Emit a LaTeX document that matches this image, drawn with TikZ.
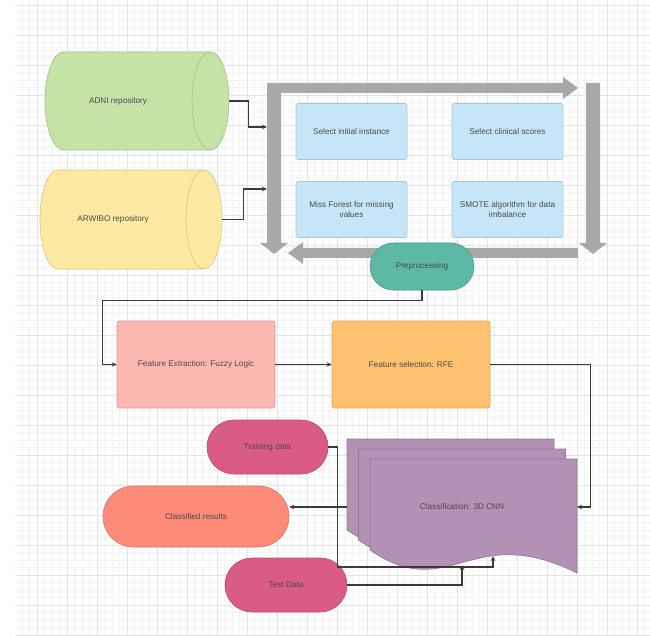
\documentclass[tikz,border=0pt]{standalone}
\usepackage{fontspec}
\setmainfont{Liberation Sans}
\usetikzlibrary{arrows.meta}
\definecolor{gridminor}{HTML}{F4F4F4}
\definecolor{gridmajor}{HTML}{E4E4E4}
\definecolor{grayarrow}{HTML}{A8A8A8}
\definecolor{txtc}{HTML}{4A4A4A}
\definecolor{linec}{HTML}{3A3A3A}
\definecolor{blueF}{HTML}{C7E5F8}\definecolor{blueD}{HTML}{A9C7DA}
\definecolor{greenF}{HTML}{C6E3A7}\definecolor{greenD}{HTML}{9FC386}
\definecolor{yellowF}{HTML}{FDE9A1}\definecolor{yellowD}{HTML}{D9C57F}
\definecolor{tealF}{HTML}{5DB9A5}\definecolor{tealD}{HTML}{4A9E8C}
\definecolor{pinkF}{HTML}{FBB8B0}\definecolor{pinkD}{HTML}{D9A09A}
\definecolor{orangeF}{HTML}{FEC271}\definecolor{orangeD}{HTML}{E0A95C}
\definecolor{raspF}{HTML}{DA5C85}\definecolor{raspD}{HTML}{B84A6E}
\definecolor{salmonF}{HTML}{FE8B77}\definecolor{salmonD}{HTML}{DD7664}
\definecolor{purpleF}{HTML}{B391B5}\definecolor{purpleD}{HTML}{94769A}
\tikzset{
  txt/.style={font=\fontsize{8.2}{9.5}\selectfont, text=txtc, align=center, inner sep=0pt},
  bluebox/.style={txt, rectangle, rounded corners=2pt, fill=blueF, draw=blueD, line width=0.6pt,
    minimum width=111pt, minimum height=56pt},
  bigbox/.style={txt, rectangle, rounded corners=2pt, line width=0.6pt,
    minimum width=158pt, minimum height=87pt},
  stadium/.style={txt, rectangle, line width=0.6pt},
  conn/.style={draw=linec, line width=1.2pt, -{Stealth[length=5pt,width=4.5pt]}},
  garrow/.style={fill=grayarrow, draw=none},
  cylbody/.style={line width=0.6pt},
}
\begin{document}
\begin{tikzpicture}[x=1pt,y=-1pt]
\useasboundingbox (0,0) rectangle (650,636);
\fill[white] (0,0) rectangle (650,636);
% grid
\foreach \i in {0,...,84} {
  \draw[gridminor, line width=0.4pt] ({14.5+7.5*\i},0) -- ({14.5+7.5*\i},636);
  \draw[gridminor, line width=0.4pt] (14.5,{5+7.5*\i}) -- (650,{5+7.5*\i});
}
\foreach \i in {0,...,21} {
  \draw[gridmajor, line width=0.5pt] ({7+30*\i},0) -- ({7+30*\i},636);
  \draw[gridmajor, line width=0.5pt] (14.5,{5+30*\i}) -- (650,{5+30*\i});
}
\fill[white] (0,0) rectangle (14.5,636);

% cylinders
\path[cylbody, fill=greenF, draw=greenD] (63.5,52) -- (210.5,52)
  arc[start angle=90, end angle=-90, x radius=18.5pt, y radius=49pt] -- (63.5,150)
  arc[start angle=270, end angle=90, x radius=18.5pt, y radius=49pt] -- cycle;
\draw[cylbody, draw=greenD] (210.5,52) arc[start angle=90, end angle=270, x radius=18.5pt, y radius=49pt];
\node[inner sep=0, minimum width=184pt, minimum height=98pt] (adni) at (137,101) {};
\node[txt] (adnilbl) at (118,101) {ADNI repository};

\path[cylbody, fill=yellowF, draw=yellowD] (58,170) -- (204,170)
  arc[start angle=90, end angle=-90, x radius=18pt, y radius=49.5pt] -- (58,269)
  arc[start angle=270, end angle=90, x radius=18pt, y radius=49.5pt] -- cycle;
\draw[cylbody, draw=yellowD] (204,170) arc[start angle=90, end angle=270, x radius=18pt, y radius=49.5pt];
\node[inner sep=0, minimum width=182pt, minimum height=99pt] (arw) at (131,219.5) {};
\node[txt] (arwlbl) at (113,219.5) {ARWIBO repository};

% gray cycle arrows
\path[garrow] (267,83) -- (281,83) -- (281,243) -- (288,243) -- (274,254) -- (260,243) -- (267,243) -- cycle;
\path[garrow] (281,83) -- (563,83) -- (563,77) -- (578,88) -- (563,99) -- (563,93) -- (281,93) -- cycle;
\path[garrow] (586,83) -- (600,83) -- (600,243) -- (607,243) -- (593,254) -- (579,243) -- (586,243) -- cycle;
\path[garrow] (578,248) -- (578,258) -- (303,258) -- (303,264) -- (288,253) -- (303,242) -- (303,248) -- cycle;

% blue boxes
\node[bluebox] (sii) at (351.5,131.5) {Select initial instance};
\node[bluebox] (scs) at (507.5,131.5) {Select clinical scores};
\node[bluebox] (mf) at (351.5,209.5) {Miss Forest for missing\\values};
\node[bluebox] (smote) at (507.5,209.5) {SMOTE algorithm for data\\imbalance};

\node[stadium, fill=tealF, draw=tealD, rounded corners=23.5pt, minimum width=104pt, minimum height=47pt] (pre) at (422,266.5) {Preprocessing};

% feature boxes
\node[bigbox, fill=pinkF, draw=pinkD] (fe) at (196,364.5) {Feature Extraction: Fuzzy Logic};
\node[bigbox, fill=orangeF, draw=orangeD] (fs) at (411,364.5) {Feature selection: RFE};

% classification multi-document
\foreach \dx/\dy in {-23/-20, -11.5/-10, 0/0} {
  \begin{scope}[shift={(\dx,\dy)}]
    \path[fill=purpleF, draw=purpleD, line width=0.6pt] (370,459) -- (577,459) -- (577,573)
      .. controls (470,520) and (450,605) .. (370,550) -- cycle;
  \end{scope}
}
\node[txt] (cls) at (462,507) {Classification: 3D CNN};
\coordinate (clsR) at (577,507);
\coordinate (clsL) at (347,507);
\coordinate (clsB1) at (493,556);
\coordinate (clsB2) at (462,565);

% terminals
\node[stadium, fill=raspF, draw=raspD, rounded corners=27pt, minimum width=121pt, minimum height=54pt] (tr) at (267.5,447) {Training data};
\node[stadium, fill=salmonF, draw=salmonD, rounded corners=30.5pt, minimum width=186pt, minimum height=61pt] (res) at (196,516.5) {Classified results};
\node[stadium, fill=raspF, draw=raspD, rounded corners=27pt, minimum width=122pt, minimum height=54pt] (te) at (286,585) {Test Data};

% connectors
\coordinate (inA) at (267,127);
\coordinate (inB) at (267,189);
\draw[conn] (adni.east) -- ++(19,0) |- (inA);
\draw[conn] (arw.east) -- ++(21,0) |- (inB);
\draw[conn] (pre.south) -- ++(0,10) -| ([xshift=-14pt]fe.west) -- (fe.west);
\draw[conn] (fe.east) -- (fs.west);
\draw[conn] (fs.east) -- ++(100,0) |- (clsR);
\draw[conn] (clsL) -- (clsL -| res.east);
\draw[conn] (tr.east) -- ++(9,0) -- ++(0,120) -| (clsB1);
\draw[conn] (te.east) -| (clsB2);
\end{tikzpicture}
\end{document}
